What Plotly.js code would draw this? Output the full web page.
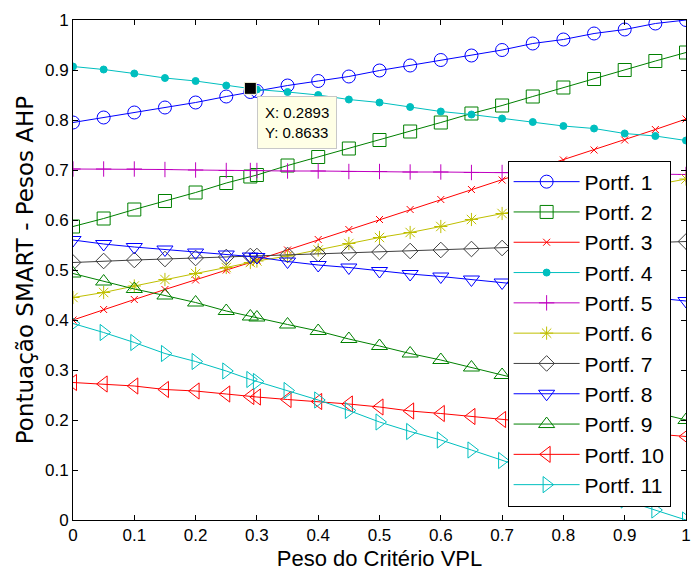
<!DOCTYPE html>
<html>
<head>
<meta charset="utf-8">
<script src="https://cdn.plot.ly/plotly-3.0.1.min.js"></script>
<style>html,body{margin:0;padding:0;background:#fff;}</style>
</head>
<body>
<div id="chart" style="width:692px;height:575px;"></div>
<script>
const xVals = [0, 0.05, 0.1, 0.15, 0.2, 0.25, 0.2893, 0.3, 0.35, 0.4, 0.45, 0.5, 0.55, 0.6, 0.65, 0.7, 0.75, 0.8, 0.85, 0.9, 0.95, 1.0];

const portf1 = [0.795, 0.805, 0.815, 0.825, 0.835, 0.847, 0.856, 0.858, 0.869, 0.878, 0.887, 0.899, 0.909, 0.920, 0.929, 0.940, 0.953, 0.961, 0.973, 0.981, 0.993, 1.000];
const portf2 = [0.587, 0.603, 0.621, 0.638, 0.655, 0.674, 0.687, 0.690, 0.709, 0.726, 0.743, 0.760, 0.777, 0.795, 0.813, 0.829, 0.847, 0.865, 0.882, 0.900, 0.918, 0.935];
const portf3 = [0.400, 0.421, 0.441, 0.461, 0.480, 0.500, 0.515, 0.520, 0.540, 0.561, 0.581, 0.601, 0.621, 0.641, 0.661, 0.680, 0.700, 0.720, 0.740, 0.760, 0.781, 0.802];
const portf4 = [0.907, 0.901, 0.893, 0.884, 0.878, 0.869, 0.8633, 0.861, 0.856, 0.850, 0.841, 0.835, 0.826, 0.817, 0.811, 0.803, 0.796, 0.788, 0.783, 0.773, 0.768, 0.759];
const portf5 = [0.702, 0.702, 0.702, 0.701, 0.700, 0.699, 0.699, 0.699, 0.698, 0.698, 0.697, 0.697, 0.696, 0.696, 0.695, 0.695, 0.694, 0.694, 0.693, 0.693, 0.692, 0.691];
const portf6 = [0.445, 0.455, 0.468, 0.481, 0.493, 0.505, 0.515, 0.518, 0.528, 0.540, 0.553, 0.565, 0.575, 0.587, 0.601, 0.613, 0.625, 0.636, 0.648, 0.659, 0.670, 0.682];
const portf7 = [0.515, 0.518, 0.520, 0.522, 0.524, 0.526, 0.528, 0.528, 0.530, 0.532, 0.534, 0.536, 0.538, 0.540, 0.542, 0.544, 0.546, 0.548, 0.551, 0.553, 0.555, 0.557];
const portf8 = [0.560, 0.552, 0.546, 0.541, 0.535, 0.531, 0.527, 0.526, 0.517, 0.510, 0.505, 0.498, 0.492, 0.487, 0.481, 0.475, 0.469, 0.463, 0.457, 0.450, 0.445, 0.438];
const portf9 = [0.493, 0.477, 0.462, 0.449, 0.435, 0.418, 0.407, 0.405, 0.391, 0.378, 0.362, 0.348, 0.333, 0.320, 0.305, 0.290, 0.275, 0.260, 0.245, 0.230, 0.215, 0.200];
const portf10 = [0.275, 0.272, 0.268, 0.261, 0.258, 0.252, 0.247, 0.246, 0.241, 0.237, 0.232, 0.226, 0.218, 0.213, 0.207, 0.201, 0.195, 0.189, 0.183, 0.177, 0.172, 0.167];
const portf11 = [0.393, 0.375, 0.355, 0.333, 0.317, 0.298, 0.281, 0.277, 0.259, 0.240, 0.219, 0.196, 0.177, 0.160, 0.140, 0.119, 0.099, 0.079, 0.059, 0.040, 0.020, 0.000];

const seriesNames = ["Portf. 1","Portf. 2","Portf. 3","Portf. 4","Portf. 5","Portf. 6","Portf. 7","Portf. 8","Portf. 9","Portf. 10","Portf. 11"];
const seriesData = [portf1, portf2, portf3, portf4, portf5, portf6, portf7, portf8, portf9, portf10, portf11];
const colors = ["#0000FF","#008000","#FF0000","#00BFBF","#BF00BF","#BFBF00","#404040","#0000FF","#008000","#FF0000","#00BFBF"];
const symbols = ["circle-open","square-open","x-thin-open","circle","cross-thin-open","asterisk-open","diamond-open","triangle-down-open","triangle-up-open","triangle-left-open","triangle-right-open"];
const sizes = [13, 13, 7, 7, 11, 11, 12, 14, 14, 14, 14];

const tipX = [0.2893];
const tipY = [0.8633];
const tickVals = [0, 0.1, 0.2, 0.3, 0.4, 0.5, 0.6, 0.7, 0.8, 0.9, 1];
const tickText = ["0","0.1","0.2","0.3","0.4","0.5","0.6","0.7","0.8","0.9","1"];

const traces = seriesData.map((ys, i) => ({
  x: xVals, y: ys, type: "scatter", mode: "lines+markers", name: seriesNames[i],
  line: {color: colors[i], width: 1},
  marker: {symbol: symbols[i], size: sizes[i], color: colors[i], line: {color: colors[i], width: 1}}
}));
traces.push({
  x: tipX, y: tipY, type: "scatter", mode: "markers", showlegend: false,
  marker: {symbol: "square", size: 12, color: "#000000", line: {color: "#FFFFE1", width: 1}}
});

const fnt = "Liberation Sans, Arial, sans-serif";
const layout = {
  width: 692, height: 575,
  margin: {l: 73, r: 6, t: 20, b: 55},
  paper_bgcolor: "#fff", plot_bgcolor: "#fff",
  font: {family: fnt, size: 17, color: "#000"},
  showlegend: true,
  legend: {
    x: 0.709, y: 0.719, xanchor: "left", yanchor: "top",
    bgcolor: "#fff", bordercolor: "#000", borderwidth: 1,
    font: {family: fnt, size: 21, color: "#000"},
    itemwidth: 66,
    tracegroupgap: 0
  },
  xaxis: {
    range: [0, 1], tickvals: tickVals, ticktext: tickText,
    ticks: "inside", ticklen: 5, tickcolor: "#000",
    showline: true, linecolor: "#000", linewidth: 1, mirror: "ticks",
    showgrid: false, zeroline: false,
    tickfont: {family: fnt, size: 17},
    title: {text: "Peso do Critério VPL", font: {family: fnt, size: 22}, standoff: 6}
  },
  yaxis: {
    range: [0, 1], tickvals: tickVals, ticktext: tickText,
    ticks: "inside", ticklen: 5, tickcolor: "#000",
    showline: true, linecolor: "#000", linewidth: 1, mirror: "ticks",
    showgrid: false, zeroline: false,
    tickfont: {family: fnt, size: 17},
    title: {text: "Pontuação SMART - Pesos AHP", font: {family: "DejaVu Sans, sans-serif", size: 23}, standoff: 4}
  },
  annotations: [{
    x: 0.30, y: 0.849, xref: "x", yref: "y", xanchor: "left", yanchor: "top",
    showarrow: false, align: "left",
    text: "X: 0.2893<br>Y: 0.8633",
    font: {family: fnt, size: 15, color: "#000"},
    bgcolor: "#FFFFE6", bordercolor: "#C8C8C8", borderwidth: 1, borderpad: 7
  }]
};

Plotly.newPlot("chart", traces, layout, {displayModeBar: false, staticPlot: true});
</script>
</body>
</html>
